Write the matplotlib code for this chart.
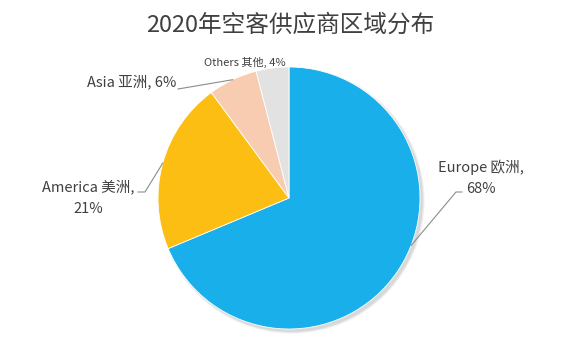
import numpy as np
import matplotlib
matplotlib.use("Agg")
import matplotlib.pyplot as plt
from matplotlib.patches import Circle

plt.rcParams['font.family'] = ['Noto Sans CJK SC', 'DejaVu Sans']

# dane
regiony = ["Europe 欧洲", "America 美洲", "Asia 亚洲", "Others 其他"]
udzialy = [68, 21, 6, 4]
kolory = ["#18AFEA", "#FDBE14", "#F8CCB0", "#E2E2E2"]
tytul = "2020年空客供应商区域分布"

W, H = 580, 345
cx, cy, r = 289, 198, 131  # srodek kola w pikselach

fig = plt.figure(figsize=(W / 100, H / 100), dpi=100)
ax = fig.add_axes([(cx - r) / W, (H - cy - r) / H, 2 * r / W, 2 * r / H])

# delikatny cien pod kolem (przesuniety w prawo i w dol)
for i in range(5):
    ax.add_patch(Circle((0.02, -0.02), 1 + 0.004 * i, color="black",
                        alpha=0.03, lw=0, zorder=0, clip_on=False))

wedges, _ = ax.pie(udzialy, colors=kolory, startangle=90, counterclock=False,
                   radius=1, wedgeprops=dict(edgecolor="white", linewidth=0.6))
ax.set_xlim(-1, 1)
ax.set_ylim(-1, 1)
ax.set_aspect("equal")
ax.axis("off")


def px(x, y):
    # piksele -> wspolrzedne danych
    return (x - cx) / r, (cy - y) / r


def punkt(w, frac=0.5, rr=1.0):
    a = np.deg2rad(w.theta1 + (w.theta2 - w.theta1) * frac)
    return rr * np.cos(a), rr * np.sin(a)


def linia(p0, *pts):
    xs = [p0[0]] + [px(*p)[0] for p in pts]
    ys = [p0[1]] + [px(*p)[1] for p in pts]
    ax.plot(xs, ys, color="#8C8C8C", lw=0.8, clip_on=False)


kolor_txt = "#404040"

# Europe
linia(punkt(wedges[0], 0.55), (456, 192), (462, 192))
ax.text(*px(481, 178), f"{regiony[0]},\n{udzialy[0]}%", ha="center", va="center",
        fontsize=10.5, color=kolor_txt, linespacing=1.6)

# America
linia(punkt(wedges[1], 0.5), (145, 192), (138, 192))
ax.text(*px(88, 198), f"{regiony[1]},\n{udzialy[1]}%", ha="center", va="center",
        fontsize=10.5, color=kolor_txt, linespacing=1.7)

# Asia
linia(punkt(wedges[2], 0.5), (178, 89))
ax.text(*px(176, 82), f"{regiony[2]}, {udzialy[2]}%", ha="right", va="center",
        fontsize=10.5, color=kolor_txt)

# Others
ax.text(*px(245, 62), f"{regiony[3]}, {udzialy[3]}%", ha="center", va="center",
        fontsize=8, color=kolor_txt)

fig.text(0.5, 1 - 25 / H, tytul, ha="center", va="center", fontsize=17, color=kolor_txt)

fig.savefig("out.png", dpi=100, facecolor="white")
